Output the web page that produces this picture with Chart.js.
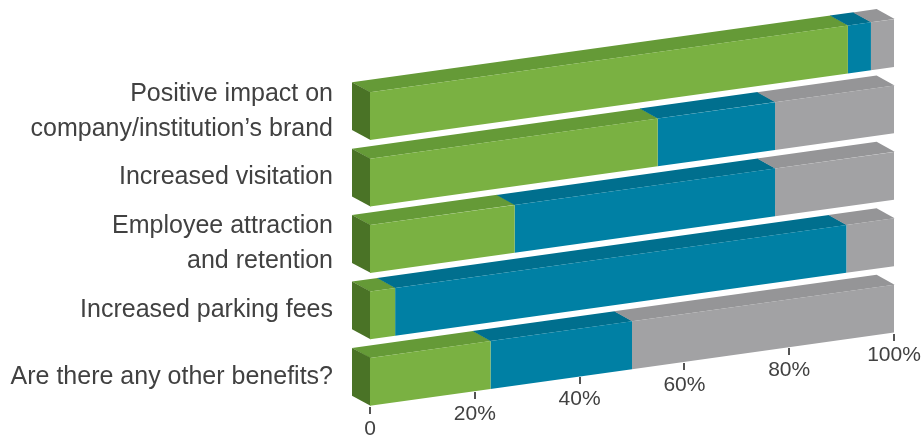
<!DOCTYPE html>
<html>
<head>
<meta charset="utf-8">
<script src="https://cdn.jsdelivr.net/npm/chart.js@4/dist/chart.umd.min.js"></script>
<style>
  html, body { margin: 0; padding: 0; background: #ffffff; }
  #wrap { width: 923px; height: 436px; position: relative; }
</style>
</head>
<body>
<div id="wrap"><canvas id="c" width="923" height="436"></canvas></div>
<script>
// ---- data ----
const CATEGORIES = [
  ['Positive impact on', 'company/institution\u2019s brand'],
  'Increased visitation',
  ['Employee attraction', 'and retention'],
  'Increased parking fees',
  'Are there any other benefits?'
];
const SERIES_NAMES = ['Series 1', 'Series 2', 'Series 3'];
const GREEN_VALUES = [91.2, 54.9, 27.6, 4.8, 23.0];
const BLUE_VALUES  = [4.4, 22.4, 49.7, 86.1, 27.0];
const GRAY_VALUES  = [4.4, 22.7, 22.7, 9.1, 50.0];
const X_TICK_VALUES = [0, 20, 40, 60, 80, 100];
const X_TICK_LABELS = ['0', '20%', '40%', '60%', '80%', '100%'];

// ---- style ----
const FRONT_COLORS = ['#7ab142', '#0080a4', '#a2a2a4'];
const TOP_COLORS   = ['#659a37', '#006f8e', '#959597'];
const SIDE_COLOR   = '#4a7326';
const SLOPE = 0.1396;       // perspective slant of the whole plot
const DEPTH_X = -18, DEPTH_Y = -12.5;
const FONT = '"Liberation Sans", Arial, sans-serif';
const TEXT_COLOR = '#414141';

function poly(ctx, pts) {
  ctx.beginPath();
  ctx.moveTo(pts[0], pts[1]);
  for (let i = 2; i < pts.length; i += 2) ctx.lineTo(pts[i], pts[i + 1]);
  ctx.closePath();
  ctx.fill();
}

const depthPlugin = {
  id: 'depth3d',
  beforeDatasetsDraw(chart) {
    const ctx = chart.ctx;
    const x0 = chart.chartArea.left;
    ctx.save();
    ctx.transform(1, -SLOPE, 0, 1, 0, SLOPE * x0);
    chart.data.datasets.forEach((ds, di) => {
      const meta = chart.getDatasetMeta(di);
      meta.data.forEach((bar) => {
        const p = bar.getProps(['x', 'y', 'base', 'height'], true);
        const xl = Math.min(p.x, p.base), xr = Math.max(p.x, p.base);
        const yt = p.y - p.height / 2, yb = p.y + p.height / 2;
        if (xr - xl <= 0) return;
        ctx.fillStyle = TOP_COLORS[di];
        poly(ctx, [xl, yt, xr + 0.6, yt, xr + 0.6 + DEPTH_X, yt + DEPTH_Y, xl + DEPTH_X, yt + DEPTH_Y]);
        if (di === 0) {
          ctx.fillStyle = SIDE_COLOR;
          poly(ctx, [xl + 0.5, yt, xl + 0.5, yb, xl + DEPTH_X, yb + DEPTH_Y, xl + DEPTH_X, yt + DEPTH_Y]);
        }
      });
    });
  },
  afterDatasetsDraw(chart) {
    const ctx = chart.ctx;
    ctx.restore();
    // slanted x axis: tick marks + labels, positioned by the library's x scale
    const xs = chart.scales.x;
    const x0 = chart.chartArea.left;
    const lastMeta = chart.getDatasetMeta(0);
    const lastBar = lastMeta.data[lastMeta.data.length - 1].getProps(['y', 'height'], true);
    const yBottom = lastBar.y + lastBar.height / 2;
    ctx.save();
    X_TICK_VALUES.forEach((v, i) => {
      const px = xs.getPixelForValue(v);
      const top = yBottom + 1 - SLOPE * (px - x0);
      ctx.fillStyle = '#545454';
      ctx.fillRect(Math.round(px) - 1, Math.round(top), 2, 7);
      ctx.fillStyle = TEXT_COLOR;
      ctx.font = '21px ' + FONT;
      ctx.textAlign = 'center';
      ctx.textBaseline = 'middle';
      ctx.fillText(X_TICK_LABELS[i], px, top + 22);
    });
    ctx.restore();
  }
};

new Chart(document.getElementById('c'), {
  type: 'bar',
  data: {
    labels: CATEGORIES,
    datasets: [
      { label: SERIES_NAMES[0], data: GREEN_VALUES, backgroundColor: FRONT_COLORS[0] },
      { label: SERIES_NAMES[1], data: BLUE_VALUES,  backgroundColor: FRONT_COLORS[1] },
      { label: SERIES_NAMES[2], data: GRAY_VALUES,  backgroundColor: FRONT_COLORS[2] }
    ]
  },
  options: {
    indexAxis: 'y',
    responsive: false,
    animation: false,
    devicePixelRatio: 1,
    layout: { padding: { left: 0, right: 29, top: 83, bottom: 21 } },
    datasets: {
      bar: { barPercentage: 0.72, categoryPercentage: 1, borderWidth: 0, borderSkipped: false, clip: false }
    },
    plugins: { legend: { display: false }, tooltip: { enabled: false } },
    scales: {
      x: { stacked: true, min: 0, max: 100, display: false },
      y: {
        stacked: true,
        grid: { display: false, drawTicks: false },
        border: { display: false },
        ticks: {
          autoSkip: false,
          color: TEXT_COLOR,
          padding: 37,
          labelOffset: -5,
          font: { family: FONT, size: 25, lineHeight: 1.4 }
        },
        afterFit(scale) {
          scale.width = 370;
          scale.paddingTop = 0;
          scale.paddingBottom = 0;
        }
      }
    }
  },
  plugins: [depthPlugin]
});
</script>
</body>
</html>
